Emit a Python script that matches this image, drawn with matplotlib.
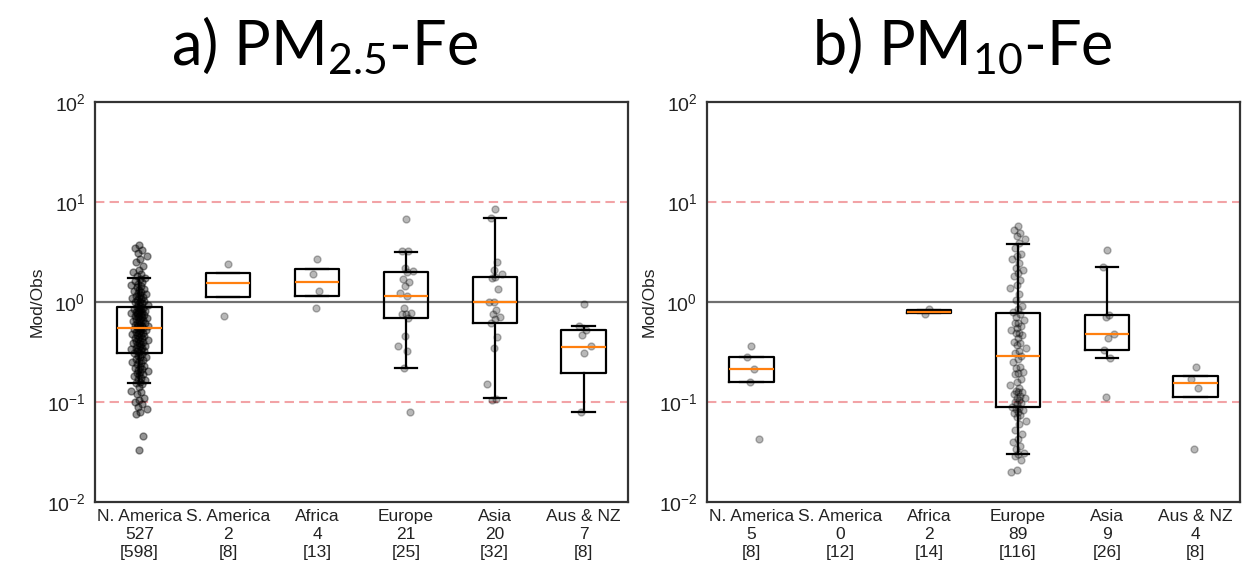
import numpy as np
import matplotlib.pyplot as plt
from matplotlib.ticker import FuncFormatter, FixedLocator

plt.rcParams['font.family'] = ['Liberation Sans', 'DejaVu Sans']

regions = ['N. America', 'S. America', 'Africa', 'Europe', 'Asia', 'Aus & NZ']

# site counts under the x labels
counts_25 = [527, 2, 4, 21, 20, 7]
totals_25 = [598, 8, 13, 25, 32, 8]
counts_10 = [5, 0, 2, 89, 9, 4]
totals_10 = [8, 12, 14, 116, 26, 8]

# box statistics: q1, median, q3, lower whisker, upper whisker
q1_25 = [0.311, 1.13, 1.16, 0.69, 0.61, 0.196]
med_25 = [0.545, 1.54, 1.60, 1.15, 1.00, 0.357]
q3_25 = [0.90, 1.96, 2.12, 2.00, 1.79, 0.525]
lo_25 = [0.154, 1.13, 1.16, 0.217, 0.109, 0.08]
hi_25 = [1.73, 1.96, 2.12, 3.18, 6.9, 0.575]

q1_10 = [0.157, None, 0.77, 0.0885, 0.331, 0.111]
med_10 = [0.216, None, 0.80, 0.288, 0.479, 0.154]
q3_10 = [0.284, None, 0.84, 0.77, 0.735, 0.182]
lo_10 = [0.157, None, 0.77, 0.030, 0.273, 0.111]
hi_10 = [0.284, None, 0.84, 3.8, 2.22, 0.182]

# individual Mod/Obs ratios (estimated from the scatter)
na_25 = [3.7, 3.5, 3.3, 3.1, 2.9, 2.7, 2.5, 2.3, 2.1, 2.0, 1.9, 1.8,
         1.72, 1.68, 1.62, 1.58, 1.52, 1.48, 1.44, 1.40, 1.36, 1.33, 1.30, 1.27,
         1.24, 1.21, 1.18, 1.15, 1.13, 1.11, 1.09, 1.07, 1.05, 1.03, 1.01, 0.99,
         0.97, 0.95, 0.93, 0.91,
         0.89, 0.88, 0.87, 0.86, 0.85, 0.84, 0.82, 0.81, 0.80, 0.79, 0.78, 0.77,
         0.76, 0.75, 0.74, 0.73, 0.72, 0.71, 0.70, 0.69, 0.68, 0.67, 0.66, 0.65,
         0.64, 0.63, 0.62, 0.61, 0.60, 0.59, 0.58, 0.575, 0.57, 0.565, 0.56, 0.555,
         0.55, 0.54, 0.535, 0.53, 0.52, 0.51, 0.50, 0.495, 0.49, 0.48, 0.47, 0.465,
         0.46, 0.45, 0.44, 0.435, 0.43, 0.42, 0.41, 0.405, 0.40, 0.39, 0.385, 0.38,
         0.37, 0.365, 0.36, 0.35, 0.345, 0.34, 0.335, 0.33, 0.325, 0.32, 0.315, 0.31,
         0.30, 0.29, 0.285, 0.28, 0.27, 0.26, 0.255, 0.25, 0.245, 0.24, 0.23, 0.225,
         0.22, 0.215, 0.21, 0.205, 0.20, 0.195, 0.19, 0.185, 0.18, 0.175, 0.17, 0.165,
         0.16, 0.155,
         0.15, 0.14, 0.13, 0.125, 0.12, 0.11, 0.105, 0.10, 0.095, 0.09, 0.085, 0.08,
         0.075, 0.046, 0.033]
sa_25 = [2.38, 0.72]
af_25 = [2.69, 1.9, 1.28, 0.87]
eu_25 = [6.7, 3.26, 3.2, 2.17, 2.04, 2.0, 1.69, 1.6, 1.45, 1.22, 1.15, 0.88,
         0.77, 0.76, 0.75, 0.69, 0.457, 0.366, 0.326, 0.217, 0.08]
as_25 = [8.45, 6.9, 2.5, 2.09, 1.9, 1.79, 1.72, 1.34, 1.0, 1.0, 0.83, 0.75,
         0.70, 0.68, 0.61, 0.45, 0.344, 0.151, 0.106, 0.104]
au_25 = [0.955, 0.575, 0.525, 0.47, 0.363, 0.311, 0.08]

na_10 = [0.36, 0.284, 0.216, 0.157, 0.043]
sa_10 = []
af_10 = [0.85, 0.76]
eu_10 = [5.75, 5.2, 4.86, 4.6, 4.24, 3.9, 3.44, 3.0, 2.88, 2.67, 2.47, 2.2,
         2.09, 1.94, 1.8, 1.66, 1.48, 1.37, 1.2, 1.05, 0.91, 0.85, 0.80, 0.76,
         0.71, 0.66, 0.62, 0.61, 0.58, 0.545, 0.52, 0.49, 0.486, 0.47, 0.44, 0.40,
         0.386, 0.37, 0.35, 0.32, 0.31, 0.29, 0.27, 0.25, 0.226, 0.22, 0.20, 0.194,
         0.19, 0.17, 0.16, 0.148, 0.137, 0.13, 0.127, 0.125, 0.12, 0.115, 0.11, 0.109,
         0.105, 0.10, 0.098, 0.095, 0.09, 0.088, 0.085, 0.083, 0.08, 0.078, 0.074, 0.07,
         0.064, 0.06, 0.053, 0.048, 0.043, 0.04, 0.036, 0.034, 0.031, 0.03, 0.029, 0.026,
         0.021, 0.020]
as_10 = [3.29, 2.22, 0.735, 0.70, 0.479, 0.433, 0.331, 0.273, 0.113]
au_10 = [0.224, 0.168, 0.137, 0.0336]


def jitter(n, width):
    # deterministic, centre-weighted spread of the points around the box
    i = np.arange(n)
    u = np.clip((0.5 + i * 0.6180339887) % 1.0, 0.02, 0.98)
    return width * np.log(u / (1 - u)) / 3.9


def draw_panel(ax, points, q1, med, q3, lo, hi, counts, totals):
    ax.axhline(1, color='#6f6f6f', lw=1.6, zorder=1)
    for y in (0.1, 10):
        ax.axhline(y, color='#f2a3a6', lw=1.5, ls=(0, (4.5, 2.5)), zorder=1)

    for k, vals in enumerate(points):
        if not vals:
            continue
        if len(vals) > 100:
            width, alpha = 0.10, 0.42
        else:
            width, alpha = 0.09, 0.28
        xs = k + 1 + jitter(len(vals), width)
        ax.plot(xs, vals, 'o', color='k', alpha=alpha, ms=5, mew=1, zorder=2)

    stats, pos = [], []
    for k in range(len(regions)):
        if med[k] is None:
            continue
        stats.append(dict(q1=q1[k], med=med[k], q3=q3[k],
                          whislo=lo[k], whishi=hi[k], fliers=[]))
        pos.append(k + 1)
    ax.bxp(stats, positions=pos, widths=0.5, showfliers=False,
           boxprops=dict(color='k', lw=1.6),
           whiskerprops=dict(color='k', lw=1.6),
           capprops=dict(color='k', lw=1.6),
           medianprops=dict(color='#ff7f0e', lw=1.6),
           manage_ticks=False, zorder=3)

    ax.set_yscale('log')
    ax.set_ylim(1e-2, 1e2)
    ax.set_xlim(0.5, len(regions) + 0.5)
    ax.yaxis.set_major_locator(FixedLocator([1e-2, 1e-1, 1e0, 1e1, 1e2]))
    ax.yaxis.set_major_formatter(FuncFormatter(
        lambda v, p: r'$\mathregular{10^{%d}}$' % round(np.log10(v))))
    ax.minorticks_off()
    ax.set_xticks(range(1, len(regions) + 1))
    ax.set_xticklabels([f'{r}\n{c}\n[{t}]' for r, c, t in zip(regions, counts, totals)],
                       linespacing=1.25)
    ax.tick_params(length=0, labelcolor='#222222')
    ax.tick_params(axis='x', labelsize=12.5, pad=5)
    ax.tick_params(axis='y', labelsize=14, pad=7)
    ax.set_ylabel('Mod/Obs', fontsize=12.5, color='#222222')
    ax.yaxis.set_label_coords(-0.094, 0.5)
    for s in ax.spines.values():
        s.set_color('#333333')
        s.set_linewidth(1.6)


fig = plt.figure(figsize=(12.48, 5.76), dpi=100)
ax1 = fig.add_axes([0.0761, 0.1285, 0.4271, 0.6944])
ax2 = fig.add_axes([0.5665, 0.1285, 0.4271, 0.6944])

draw_panel(ax1, [na_25, sa_25, af_25, eu_25, as_25, au_25],
           q1_25, med_25, q3_25, lo_25, hi_25, counts_25, totals_25)
draw_panel(ax2, [na_10, sa_10, af_10, eu_10, as_10, au_10],
           q1_10, med_10, q3_10, lo_10, hi_10, counts_10, totals_10)

fig.text(0.26, 1 - 65 / 576, r'a) PM$_{\mathregular{2.5}}$-Fe', family='Lato',
         fontsize=44, ha='center', va='baseline')
fig.text(0.771, 1 - 65 / 576, r'b) PM$_{\mathregular{10}}$-Fe', family='Lato',
         fontsize=44, ha='center', va='baseline')

fig.savefig('out.png', dpi=100, facecolor='white')
